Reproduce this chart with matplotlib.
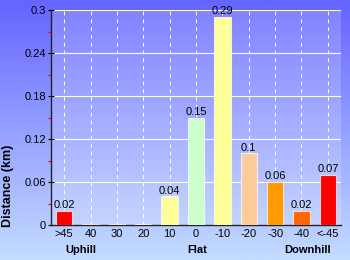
import numpy as np
import matplotlib
matplotlib.use("Agg")
import matplotlib.pyplot as plt
from matplotlib.colors import LinearSegmentedColormap

plt.rcParams["font.family"] = ["Liberation Sans", "DejaVu Sans"]

categories = [">45", "40", "30", "20", "10", "0", "-10", "-20", "-30", "-40", "<-45"]
values = [0.02, 0.002, 0.002, 0.002, 0.04, 0.15, 0.29, 0.1, 0.06, 0.02, 0.07]
labels = ["0.02", "", "", "", "0.04", "0.15", "0.29", "0.1", "0.06", "0.02", "0.07"]
colors = ["#ff0000", "#ff6600", "#ff9900", "#ffcc99", "#ffff99", "#ccffcc",
          "#ffff99", "#ffcc99", "#ff9900", "#ff6600", "#ff0000"]
yticks = [0, 0.06, 0.12, 0.18, 0.24, 0.3]
ytick_labels = ["0", "0.06", "0.12", "0.18", "0.24", "0.3"]
minor_ticks = [0.03, 0.09, 0.15, 0.21, 0.27]
groups = [("Uphill", 81), ("Flat", 197), ("Downhill", 308)]

W, H = 350, 260
fig = plt.figure(figsize=(W / 100, H / 100), dpi=100)

# background gradient
bg = fig.add_axes([0, 0, 1, 1])
grad = np.linspace(0, 1, 256).reshape(-1, 1)
cmap = LinearSegmentedColormap.from_list("bg", ["#6464ff", "#c4dcff"])
bg.imshow(grad, aspect="auto", cmap=cmap, extent=[0, 1, 0, 1], origin="upper")
bg.axis("off")

left, right, top, bottom = 51, 341, 10, 225
ax = fig.add_axes([left / W, 1 - bottom / H, (right - left) / W, (bottom - top) / H])
ax.set_facecolor((1, 1, 1, 0.18))
x = np.arange(len(categories))
ax.bar(x, values, width=0.62, color=colors, edgecolor=(1, 1, 1, 0.7), linewidth=0.8, zorder=3)
for xi, v, lab in zip(x, values, labels):
    if lab:
        ax.text(xi, v + 0.001, lab, ha="center", va="bottom", fontsize=8, color="black", zorder=4)

ax.set_xlim(-0.5, len(categories) - 0.5)
ax.set_ylim(0, 0.3)
ax.set_yticks(yticks)
ax.set_yticklabels(ytick_labels, fontsize=8)
ax.set_yticks(minor_ticks, minor=True)
ax.tick_params(axis="y", which="major", direction="inout", length=5, width=0.8, color="black", pad=1)
ax.tick_params(axis="y", which="minor", direction="out", length=2, width=0.8, color="red")
ax.set_xticks(x)
ax.set_xticklabels(categories, fontsize=8)
ax.tick_params(axis="x", length=0, pad=3)
ax.grid(axis="y", color=(1, 1, 1, 0.3), linewidth=0.8, linestyle="-", zorder=0)
ax.grid(axis="x", color=(1, 1, 1, 0.22), linewidth=0.7, linestyle=(0, (4, 4)), zorder=0)
ax.set_axisbelow(True)
for s in ["top", "right"]:
    ax.spines[s].set_visible(False)
ax.spines["left"].set_color("#222222")
ax.spines["bottom"].set_color("#222222")
ax.spines["left"].set_linewidth(1)
ax.spines["bottom"].set_linewidth(1)
ax.set_ylabel("Distance (km)", fontsize=9, fontweight="bold")
ax.yaxis.set_label_coords(-(51 - 14.5) / (right - left), (225 - 186) / (bottom - top))

for name, px in groups:
    fig.text(px / W, 1 - 250 / H, name, ha="center", va="center", fontsize=8, fontweight="bold")

fig.savefig("out.png", dpi=100)
